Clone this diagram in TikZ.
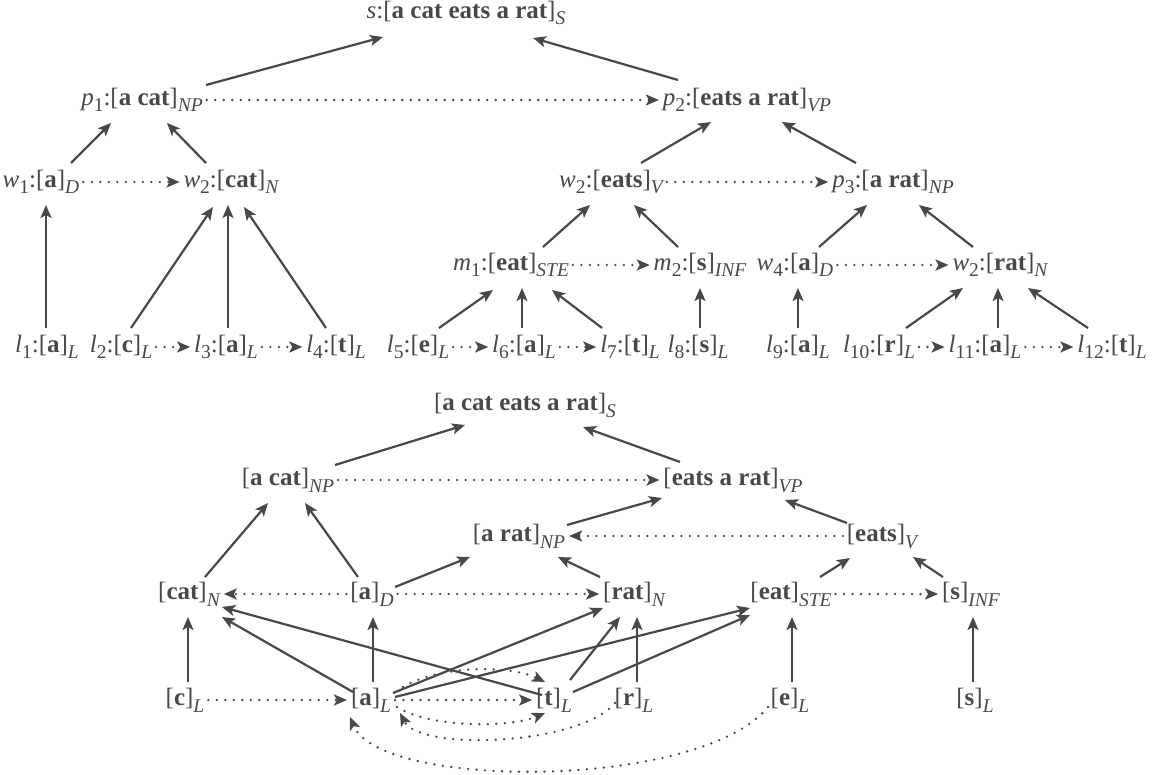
\documentclass[tikz,border=0pt]{standalone}
\usepackage{fontspec}
\setmainfont{Liberation Serif}
\usetikzlibrary{arrows.meta}
\definecolor{ink}{RGB}{72,72,72}
\newcommand{\sbs}[1]{\raisebox{-6.5pt}{\fontsize{19.5}{21}\selectfont #1}}
\newcommand{\nm}[2]{\textit{#1}\sbs{#2}}
\newcommand{\ct}[1]{\sbs{\itshape #1}}
\newcommand{\bw}[1]{[\textbf{#1}]}
\begin{document}
\begin{tikzpicture}[x=1pt,y=-1pt,
  lbl/.style={inner sep=0pt,outer xsep=4pt,outer ysep=0pt,text height=18pt,text depth=7pt,text=ink,font=\fontsize{25}{30}\selectfont,anchor=center},
  arr/.style={draw=ink,line width=2.2pt,-{Stealth[length=13pt,width=11pt,inset=3pt]}},
  dot/.style={draw=ink,line width=2.6pt,line cap=round,dash pattern=on 0pt off 8.5pt,-{Stealth[length=13pt,width=11pt,inset=3pt]}}]
\useasboundingbox (0,0) rectangle (1162,775);
% ---------- top tree ----------
\node[lbl] (s) at (466,13) {\textit{s}:\bw{a cat eats a rat}\ct{S}};
\node[lbl] (p1) at (142,100) {\nm{p}{1}:\bw{a cat}\ct{NP}};
\node[lbl] (p2) at (747,100) {\nm{p}{2}:\bw{eats a rat}\ct{VP}};
\node[lbl] (w1) at (41,182) {\nm{w}{1}:\bw{a}\ct{D}};
\node[lbl] (w2a) at (231,182) {\nm{w}{2}:\bw{cat}\ct{N}};
\node[lbl] (w2b) at (611,182) {\nm{w}{2}:\bw{eats}\ct{V}};
\node[lbl] (p3) at (893,182) {\nm{p}{3}:\bw{a rat}\ct{NP}};
\node[lbl] (m1) at (511,265) {\nm{m}{1}:\bw{eat}\ct{STE}};
\node[lbl] (m2) at (700,265) {\nm{m}{2}:\bw{s}\ct{INF}};
\node[lbl] (w4) at (795,265) {\nm{w}{4}:\bw{a}\ct{D}};
\node[lbl] (w2c) at (1000,265) {\nm{w}{2}:\bw{rat}\ct{N}};
\node[lbl] (l1) at (47,347) {\nm{l}{1}:\bw{a}\ct{L}};
\node[lbl] (l2) at (121,347) {\nm{l}{2}:\bw{c}\ct{L}};
\node[lbl] (l3) at (226,347) {\nm{l}{3}:\bw{a}\ct{L}};
\node[lbl] (l4) at (336,347) {\nm{l}{4}:\bw{t}\ct{L}};
\node[lbl] (l5) at (418,347) {\nm{l}{5}:\bw{e}\ct{L}};
\node[lbl] (l6) at (524,347) {\nm{l}{6}:\bw{a}\ct{L}};
\node[lbl] (l7) at (630,347) {\nm{l}{7}:\bw{t}\ct{L}};
\node[lbl] (l8) at (698,347) {\nm{l}{8}:\bw{s}\ct{L}};
\node[lbl] (l9) at (798,347) {\nm{l}{9}:\bw{a}\ct{L}};
\node[lbl] (l10) at (879,347) {\nm{l}{10}:\bw{r}\ct{L}};
\node[lbl] (l11) at (985,347) {\nm{l}{11}:\bw{a}\ct{L}};
\node[lbl] (l12) at (1112,347) {\nm{l}{12}:\bw{t}\ct{L}};
% solid arrows
\draw[arr] ([shift={(64,-15)}]p1.center) -- ([shift={(-83,24)}]s.center);
\draw[arr] ([shift={(-69,-20)}]p2.center) -- ([shift={(67,25)}]s.center);
\draw[arr] ([shift={(30,-19)}]w1.center) -- ([shift={(-31,23)}]p1.center);
\draw[arr] ([shift={(-25,-19)}]w2a.center) -- ([shift={(25,23)}]p1.center);
\draw[arr] ([shift={(30,-19)}]w2b.center) -- ([shift={(-36,22)}]p2.center);
\draw[arr] ([shift={(-37,-19)}]p3.center) -- ([shift={(35,22)}]p2.center);
\draw[arr] ([shift={(-1,-19)}]l1.center) -- ([shift={(5,23)}]w1.center);
\draw[arr] ([shift={(10,-19)}]l2.center) -- ([shift={(-18,25)}]w2a.center);
\draw[arr] ([shift={(2,-19)}]l3.center) -- ([shift={(-3,23)}]w2a.center);
\draw[arr] ([shift={(-10,-19)}]l4.center) -- ([shift={(13,25)}]w2a.center);
\draw[arr] ([shift={(21,-19)}]l5.center) -- ([shift={(-18,25)}]m1.center);
\draw[arr] ([shift={(-2,-19)}]l6.center) -- ([shift={(11,23)}]m1.center);
\draw[arr] ([shift={(-28,-19)}]l7.center) -- ([shift={(41,25)}]m1.center);
\draw[arr] ([shift={(32,-18)}]m1.center) -- ([shift={(-21,23)}]w2b.center);
\draw[arr] ([shift={(-22,-18)}]m2.center) -- ([shift={(23,23)}]w2b.center);
\draw[arr] ([shift={(24,-18)}]w4.center) -- ([shift={(-26,23)}]p3.center);
\draw[arr] ([shift={(-27,-18)}]w2c.center) -- ([shift={(26,23)}]p3.center);
\draw[arr] ([shift={(2,-19)}]l8.center) -- ([shift={(0,23)}]m2.center);
\draw[arr] ([shift={(0,-19)}]l9.center) -- ([shift={(3,23)}]w4.center);
\draw[arr] ([shift={(27,-19)}]l10.center) -- ([shift={(-37,23)}]w2c.center);
\draw[arr] ([shift={(13,-19)}]l11.center) -- ([shift={(-2,23)}]w2c.center);
\draw[arr] ([shift={(-24,-19)}]l12.center) -- ([shift={(28,23)}]w2c.center);
% dotted arrows
\draw[dot] (p1.east) -- (p2.west);
\draw[dot] (w1.east) -- (w2a.west);
\draw[dot] (w2b.east) -- (p3.west);
\draw[dot] (m1.east) -- (m2.west);
\draw[dot] (w4.east) -- (w2c.west);
\draw[dot] (l2.east) -- (l3.west);
\draw[dot] (l3.east) -- (l4.west);
\draw[dot] (l5.east) -- (l6.west);
\draw[dot] (l6.east) -- (l7.west);
\draw[dot] (l10.east) -- (l11.west);
\draw[dot] (l11.east) -- (l12.west);
% ---------- bottom graph ----------
\node[lbl] (S2) at (525,405) {\bw{a cat eats a rat}\ct{S}};
\node[lbl] (NP) at (288,480) {\bw{a cat}\ct{NP}};
\node[lbl] (VP) at (733,480) {\bw{eats a rat}\ct{VP}};
\node[lbl] (aNP) at (519,536) {\bw{a rat}\ct{NP}};
\node[lbl] (eV) at (882,536) {\bw{eats}\ct{V}};
\node[lbl] (cN) at (189,594) {\bw{cat}\ct{N}};
\node[lbl] (aD) at (372,594) {\bw{a}\ct{D}};
\node[lbl] (rN) at (634,594) {\bw{rat}\ct{N}};
\node[lbl] (eS) at (791,594) {\bw{eat}\ct{STE}};
\node[lbl] (sI) at (971,594) {\bw{s}\ct{INF}};
\node[lbl] (cL) at (185,700) {\bw{c}\ct{L}};
\node[lbl] (aL) at (371,700) {\bw{a}\ct{L}};
\node[lbl] (tL) at (554,700) {\bw{t}\ct{L}};
\node[lbl] (rL) at (634,700) {\bw{r}\ct{L}};
\node[lbl] (eL) at (790,700) {\bw{e}\ct{L}};
\node[lbl] (sL) at (975,700) {\bw{s}\ct{L}};
% solid arrows
\draw[arr] ([shift={(47,-15)}]NP.center) -- ([shift={(-60,20)}]S2.center);
\draw[arr] ([shift={(-53,-18)}]VP.center) -- ([shift={(58,22)}]S2.center);
\draw[arr] ([shift={(16,-17)}]cN.center) -- ([shift={(-20,23)}]NP.center);
\draw[arr] ([shift={(-14,-17)}]aD.center) -- ([shift={(17,23)}]NP.center);
\draw[arr] ([shift={(23,-7)}]aD.center) -- ([shift={(-49,21)}]aNP.center);
\draw[arr] ([shift={(48,-11)}]aNP.center) -- ([shift={(-71,18)}]VP.center);
\draw[arr] ([shift={(-35,-13)}]eV.center) -- ([shift={(52,20)}]VP.center);
\draw[arr] ([shift={(-34,-17)}]rN.center) -- ([shift={(39,21)}]aNP.center);
\draw[arr] ([shift={(29,-17)}]eS.center) -- ([shift={(-32,22)}]eV.center);
\draw[arr] ([shift={(-28,-17)}]sI.center) -- ([shift={(31,21)}]eV.center);
\draw[arr] ([shift={(3,-18)}]cL.center) -- ([shift={(-1,23)}]cN.center);
\draw[arr] ([shift={(2,-18)}]aL.center) -- ([shift={(1,23)}]aD.center);
\draw[arr] ([shift={(-18,-8)}]aL.center) -- ([shift={(33,23)}]cN.center);
\draw[arr] ([shift={(-12,-5)}]tL.center) -- ([shift={(33,13)}]cN.center);
\draw[arr] ([shift={(22,-7)}]aL.center) -- ([shift={(-31,14)}]rN.center);
\draw[arr] ([shift={(24,-3)}]aL.center) -- ([shift={(-41,14)}]eS.center);
\draw[arr] ([shift={(16,-20)}]tL.center) -- ([shift={(-14,23)}]rN.center);
\draw[arr] ([shift={(19,-8)}]tL.center) -- ([shift={(-41,21)}]eS.center);
\draw[arr] ([shift={(3,-18)}]rL.center) -- ([shift={(3,23)}]rN.center);
\draw[arr] ([shift={(2,-18)}]eL.center) -- ([shift={(1,23)}]eS.center);
\draw[arr] ([shift={(-2,-18)}]sL.center) -- ([shift={(2,23)}]sI.center);
% dotted arrows
\draw[dot] (NP.east) -- (VP.west);
\draw[dot] (eV.west) -- (aNP.east);
\draw[dot] (aD.west) -- (cN.east);
\draw[dot] (aD.east) -- (rN.west);
\draw[dot] (eS.east) -- (sI.west);
\draw[dot] (cL.east) -- (aL.west);
\draw[dot] (aL.east) -- (tL.west);
\draw[dot] ([shift={(32,-13)}]aL.center) .. controls (440,665) and (510,665) .. ([shift={(-9,-18)}]tL.center);
\draw[dot] ([shift={(26,7)}]aL.center) .. controls (430,728) and (510,728) .. ([shift={(-9,13)}]tL.center);
\draw[dot] ([shift={(-19,3)}]rL.center) .. controls (580,745) and (420,752) .. ([shift={(29,13)}]aL.center);
\draw[dot] ([shift={(-22,7)}]eL.center) .. controls (700,790) and (380,790) .. ([shift={(-21,17)}]aL.center);
\end{tikzpicture}
\end{document}
